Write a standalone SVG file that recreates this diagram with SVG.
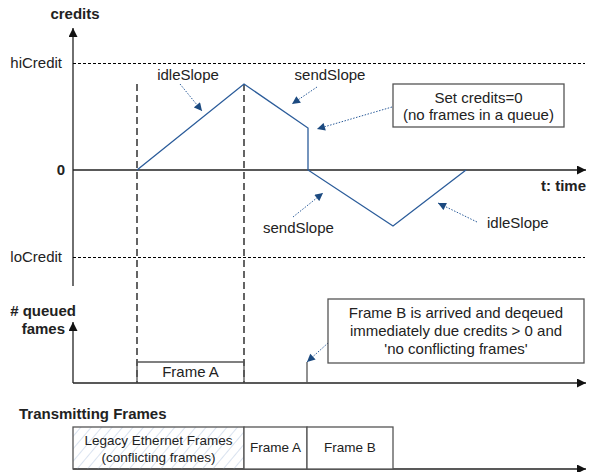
<svg xmlns="http://www.w3.org/2000/svg" width="606" height="472" viewBox="0 0 606 472">
<style>
text{font-family:"Liberation Sans",Arial,sans-serif;font-size:15px;fill:#222}
.b{font-weight:bold}
.s{font-size:13.5px}
.ax{stroke:#222;stroke-width:1.3;fill:none}
.dl{stroke:#000;stroke-width:1;stroke-dasharray:3,2;fill:none}
.vd{stroke:#111;stroke-width:1.3;stroke-dasharray:7,4;fill:none}
.cl{stroke:#2b5c9a;stroke-width:1.3;fill:none}
.co{stroke:#2b5c9a;stroke-width:1;stroke-dasharray:1.5,1.5;fill:none}
.bx{stroke:#555;stroke-width:1.3;fill:#fff}
</style>
<defs>
<marker id="ah" viewBox="0 0 10 10" refX="10" refY="5" markerWidth="11" markerHeight="9" markerUnits="userSpaceOnUse" orient="auto"><path d="M0,0L10,5L0,10z" fill="#111"/></marker>
<marker id="bh" viewBox="0 0 10 10" refX="10" refY="5" markerWidth="9" markerHeight="8" markerUnits="userSpaceOnUse" orient="auto"><path d="M0,0L10,5L0,10z" fill="#1c4a80"/></marker>
<pattern id="hatch" width="8" height="8" patternUnits="userSpaceOnUse" patternTransform="rotate(40)"><line x1="0" y1="0" x2="0" y2="8" stroke="#b3c6e0" stroke-width="1"/></pattern>
</defs>
<g id="axes">
<path class="ax" d="M73,286V28" marker-end="url(#ah)"/>
<path class="ax" d="M73,170H586" marker-end="url(#ah)"/>
<path class="ax" d="M73,383V322" marker-end="url(#ah)"/>
<path class="ax" d="M73,383H586" marker-end="url(#ah)"/>
<path class="ax" d="M73,469H586" marker-end="url(#ah)"/>
<path class="dl" d="M73,63.5H585"/>
<path class="dl" d="M73,257.5H585"/>
<path class="vd" d="M137,84V383"/>
<path class="vd" d="M244,84V383"/>
</g>
<g id="labels">
<text class="b" x="75" y="19" text-anchor="middle">credits</text>
<text x="62" y="68" text-anchor="end">hiCredit</text>
<text class="b" x="65" y="175" text-anchor="end">0</text>
<text x="62" y="262" text-anchor="end">loCredit</text>
<text class="b" x="586" y="191" text-anchor="end">t: time</text>
<text class="b" x="76" y="316" text-anchor="end"># queued</text>
<text class="b" x="65" y="334" text-anchor="end">fames</text>
<text class="b" x="19" y="419">Transmitting Frames</text>
</g>
<g id="credit-line">
<path class="cl" d="M137,170L244,84L308,128V170L393,226L466,170"/>
</g>
<g id="connectors">
<path class="co" d="M180,84L202,111" marker-end="url(#bh)"/>
<path class="co" d="M317,87L292,104" marker-end="url(#bh)"/>
<path class="co" d="M392,107L317,129" marker-end="url(#bh)"/>
<path class="co" d="M293,217L323,193" marker-end="url(#bh)"/>
<path class="co" d="M477,222L438,203" marker-end="url(#bh)"/>
<path class="co" d="M328,343L307,362" marker-end="url(#bh)"/>
</g>
<g id="idleSlope-up"><text x="188" y="80" text-anchor="middle">idleSlope</text></g>
<g id="sendSlope-up"><text x="330" y="80" text-anchor="middle">sendSlope</text></g>
<g id="set-credits">
<rect class="bx" x="393" y="84" width="171" height="43"/>
<text x="478.5" y="103" text-anchor="middle">Set credits=0</text>
<text x="478.5" y="120" text-anchor="middle">(no frames in a queue)</text>
</g>
<g id="sendSlope-down"><text x="263" y="233">sendSlope</text></g>
<g id="idleSlope-down"><text x="487" y="228">idleSlope</text></g>
<g id="queue-frameA">
<path d="M137,383V362H244V383" stroke="#555" stroke-width="1.3" fill="none"/>
<text x="190.5" y="377" text-anchor="middle">Frame A</text>
</g>
<g id="queue-frameB"><path d="M307,383V362" stroke="#555" stroke-width="1.3"/></g>
<g id="frameB-note">
<rect class="bx" x="328" y="299" width="256" height="64"/>
<text x="456" y="318" text-anchor="middle">Frame B is arrived and deqeued</text>
<text x="456" y="336" text-anchor="middle">immediately due credits &gt; 0 and</text>
<text x="456" y="354" text-anchor="middle">'no conflicting frames'</text>
</g>
<g id="tx-legacy">
<rect x="73" y="427" width="171" height="42" fill="url(#hatch)" stroke="#555" stroke-width="1.3"/>
<text class="s" x="158.5" y="445" text-anchor="middle">Legacy Ethernet Frames</text>
<text class="s" x="158.5" y="462" text-anchor="middle">(conflicting frames)</text>
</g>
<g id="tx-frameA">
<rect class="bx" x="244" y="427" width="63" height="42"/>
<text class="s" x="275.5" y="452" text-anchor="middle">Frame A</text>
</g>
<g id="tx-frameB">
<rect class="bx" x="307" y="427" width="86" height="42"/>
<text class="s" x="350" y="452" text-anchor="middle">Frame B</text>
</g>
</svg>
